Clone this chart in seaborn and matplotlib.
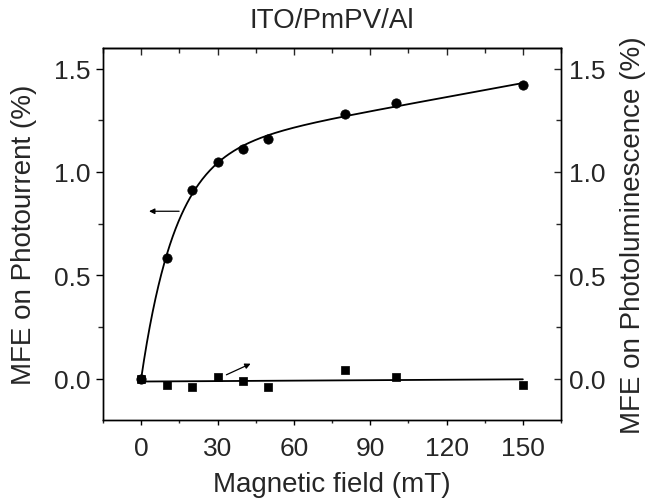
import numpy as np
import pandas as pd
import matplotlib
matplotlib.use("Agg")
import matplotlib.pyplot as plt
import seaborn as sns
from matplotlib.ticker import MultipleLocator

# -------------------------------
# Data
# -------------------------------
field_mT = [0, 10, 20, 30, 40, 50, 80, 100, 150]
mfe_photocurrent = [0.0, 0.582, 0.915, 1.050, 1.111, 1.160, 1.281, 1.332, 1.421]
mfe_photolum = [0.0, -0.031, -0.040, 0.010, -0.010, -0.040, 0.040, 0.010, -0.030]

x_ticks = [0, 30, 60, 90, 120, 150]
y_ticks = [0.0, 0.5, 1.0, 1.5]

# -------------------------------
# Fit curves (least squares on the data above)
# -------------------------------
B = np.array(field_mT, dtype=float)
pc = np.array(mfe_photocurrent)
pl = np.array(mfe_photolum)

# saturating exponential + linear term, scan b0, solve the rest linearly
best = None
for b0 in np.linspace(1, 80, 800):
    M = np.column_stack([1 - np.exp(-B / b0), B])
    coef, *_ = np.linalg.lstsq(M, pc, rcond=None)
    err = np.sum((M @ coef - pc) ** 2)
    if best is None or err < best[0]:
        best = (err, b0, coef)
_, b0, coef = best

B_fit = np.linspace(0, 150, 400)
pc_fit = coef[0] * (1 - np.exp(-B_fit / b0)) + coef[1] * B_fit
pl_fit = np.polyval(np.polyfit(B, pl, 1), B_fit)

df_pts = pd.DataFrame({"B": field_mT, "pc": mfe_photocurrent, "pl": mfe_photolum})
df_fit = pd.DataFrame({"B": B_fit, "pc": pc_fit, "pl": pl_fit})

# -------------------------------
# Plot
# -------------------------------
sns.set_theme(style="ticks")
plt.rcParams["font.family"] = ["Liberation Sans", "DejaVu Sans"]
plt.rcParams["axes.linewidth"] = 1.0

fig = plt.figure(figsize=(6.47, 5.02), dpi=100)
ax = fig.add_axes([0.1592, 0.1614, 0.7079, 0.7410])

sns.lineplot(data=df_fit, x="B", y="pc", ax=ax, color="black", lw=1.3)
sns.lineplot(data=df_fit, x="B", y="pl", ax=ax, color="black", lw=1.3)
sns.scatterplot(data=df_pts, x="B", y="pc", ax=ax, color="black", marker="o",
                s=45, edgecolor="black", zorder=3)
sns.scatterplot(data=df_pts, x="B", y="pl", ax=ax, color="black", marker="s",
                s=40, edgecolor="black", zorder=3)

ax.set_xlim(-15, 165)
ax.set_ylim(-0.2, 1.6)
ax.set_xticks(x_ticks)
ax.set_yticks(y_ticks)
ax.set_yticklabels([f"{v:.1f}" for v in y_ticks])
ax.xaxis.set_minor_locator(MultipleLocator(15))
ax.yaxis.set_minor_locator(MultipleLocator(0.25))
ax.tick_params(axis="both", which="major", direction="out", labelsize=19, color="black")
ax.tick_params(axis="x", which="major", length=3.5, width=1, pad=8)
ax.tick_params(axis="x", which="minor", length=2.5, width=1)
ax.tick_params(axis="y", which="major", length=5, width=1, pad=4)
ax.tick_params(axis="y", which="minor", length=3.5, width=1)

ax.set_xlabel("Magnetic field (mT)", fontsize=20, labelpad=8)
ax.set_ylabel("MFE on Photourrent (%)", fontsize=20, labelpad=12)
ax.set_title("ITO/PmPV/Al", fontsize=20, pad=15)

# top axis: inward ticks, no labels
top = ax.secondary_xaxis("top")
top.set_xticks(x_ticks)
top.xaxis.set_minor_locator(MultipleLocator(15))
top.tick_params(which="major", direction="in", length=5, width=1, labeltop=False)
top.tick_params(which="minor", direction="in", length=3.5, width=1)

# right axis: same scale, inward ticks
ax2 = ax.twinx()
ax2.set_ylim(-0.2, 1.6)
ax2.set_yticks(y_ticks)
ax2.set_yticklabels([f"{v:.1f}" for v in y_ticks])
ax2.yaxis.set_minor_locator(MultipleLocator(0.25))
ax2.tick_params(which="major", direction="in", length=5, width=1, labelsize=19, pad=6)
ax2.tick_params(which="minor", direction="in", length=3.5, width=1)
ax2.set_ylabel("MFE on Photoluminescence (%)", fontsize=20, labelpad=10)

for a in (ax, ax2):
    for sp in a.spines.values():
        sp.set_visible(True)
        sp.set_color("black")

# arrows pointing to the respective axes
ax.annotate("", xy=(2, 0.81), xytext=(16, 0.81),
            arrowprops=dict(arrowstyle="-|>", color="black", lw=0.9, mutation_scale=8))
ax.annotate("", xy=(44, 0.078), xytext=(32.5, 0.013),
            arrowprops=dict(arrowstyle="-|>", color="black", lw=0.9, mutation_scale=8))

fig.savefig("out.png", dpi=100)
